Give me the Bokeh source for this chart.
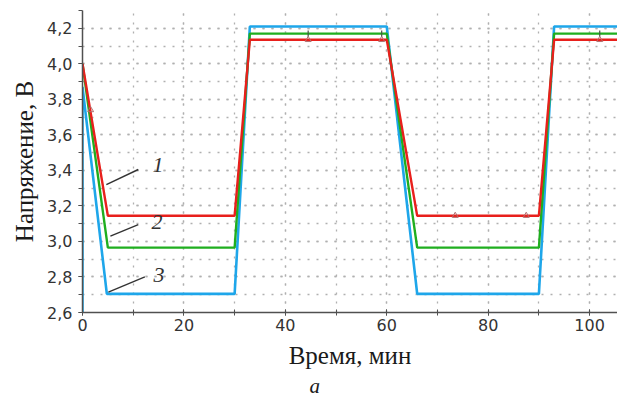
from bokeh.plotting import figure
from bokeh.models import Range1d, SingleIntervalTicker, Title, CustomJSTickFormatter
from bokeh.embed import file_html
from bokeh.resources import INLINE

# Curve 1 (red)
t_red = [0, 5, 30, 33, 60, 66, 90, 93, 106]
v_red = [4.0, 3.145, 3.145, 4.135, 4.135, 3.145, 3.145, 4.135, 4.135]
# Curve 2 (green)
t_green = [0, 5, 30, 33, 60, 66, 90, 93, 106]
v_green = [4.0, 2.965, 2.965, 4.17, 4.17, 2.965, 2.965, 4.17, 4.17]
# Curve 3 (blue)
t_blue = [0, 0, 4.8, 30, 33, 60, 66, 90, 93, 106]
v_blue = [2.6, 3.87, 2.705, 2.705, 4.21, 4.21, 2.705, 2.705, 4.21, 4.21]

# small markers on the curves
t_red_mk = [1.6, 44.5, 59, 73.5, 87.5, 102]
v_red_mk = [3.74, 4.135, 4.135, 3.145, 3.145, 4.135]
t_green_mk = [44.5, 59, 102]
v_green_mk = [4.17, 4.17, 4.17]

# curve number annotations
ann_text = ["1", "2", "3"]
ann_x = [14.9, 14.7, 15.1]
ann_y = [3.43, 3.11, 2.81]
lead_x0 = [4.7, 5.5, 5.1]
lead_y0 = [3.32, 3.03, 2.715]
lead_x1 = [11.0, 11.0, 12.3]
lead_y1 = [3.405, 3.095, 2.80]

RED = "#e8201c"
GREEN = "#1fae1f"
BLUE = "#1ea6ea"

p = figure(width=617, height=397, output_backend="svg", toolbar_location=None,
           x_range=Range1d(0, 105.5), y_range=Range1d(2.6, 4.3),
           min_border_left=82, min_border_right=0, min_border_top=10,
           min_border_bottom=79)
p.outline_line_color = None
p.background_fill_color = "white"

p.xaxis.ticker = SingleIntervalTicker(interval=20, num_minor_ticks=2)
p.yaxis.ticker = SingleIntervalTicker(interval=0.2, num_minor_ticks=2)
p.yaxis.formatter = CustomJSTickFormatter(code="return tick.toFixed(1).replace('.', ',');")

for g in (p.xgrid, p.ygrid):
    g.grid_line_color = "#b0b0b0"
    g.grid_line_dash = "2 7"
    g.grid_line_width = 1.3
    g.minor_grid_line_color = "#b0b0b0"
    g.minor_grid_line_dash = "2 7"
    g.minor_grid_line_width = 1.3

for ax in (p.xaxis, p.yaxis):
    ax.axis_line_color = "#505050"
    ax.axis_line_width = 1.5
    ax.major_tick_line_color = "#505050"
    ax.minor_tick_line_color = "#505050"
    ax.major_label_text_font = "DejaVu Sans"
    ax.major_label_text_font_size = "16px"
    ax.major_label_text_color = "#333333"
    ax.axis_label_text_font = "Liberation Serif"
    ax.axis_label_text_font_size = "25px"
    ax.axis_label_text_font_style = "normal"
    ax.axis_label_text_color = "#1a1a1a"

p.xaxis.major_tick_in = 3
p.xaxis.major_tick_out = 3
p.xaxis.minor_tick_in = 3
p.xaxis.minor_tick_out = 3
p.xaxis.major_label_standoff = 3
p.yaxis.major_tick_in = 0
p.yaxis.major_tick_out = 4
p.yaxis.minor_tick_in = 0
p.yaxis.minor_tick_out = 4
p.yaxis.major_label_standoff = 6

p.xaxis.axis_label = "Время, мин"
p.xaxis.axis_label_standoff = 8
p.yaxis.axis_label = "Напряжение, В"
p.yaxis.axis_label_standoff = 6

p.line(t_blue, v_blue, line_color=BLUE, line_width=2.6)
p.line(t_green, v_green, line_color=GREEN, line_width=2.4)
p.line(t_red, v_red, line_color=RED, line_width=2.4)

p.scatter(t_red_mk, v_red_mk, marker="triangle", size=6, fill_color=None,
          line_color="#b07070", line_width=1)
p.scatter(t_green_mk, v_green_mk, marker="dash", angle=1.5708, size=6,
          line_color="#445544", line_width=1.2)

p.segment(lead_x0, lead_y0, lead_x1, lead_y1, line_color="#333333", line_width=1.4)
p.text(ann_x, ann_y, text=ann_text, text_font_size="22px",
       text_font_style="italic", text_align="center", text_baseline="middle",
       text_color="#333333", text_font="Liberation Serif")

p.add_layout(Title(text="а", align="left", offset=227, standoff=0,
                   text_line_height=0.7,
                   text_font="Liberation Serif", text_font_size="21px",
                   text_font_style="italic", text_color="#1a1a1a"), "below")

open("out.html", "w").write(file_html(p, INLINE))
